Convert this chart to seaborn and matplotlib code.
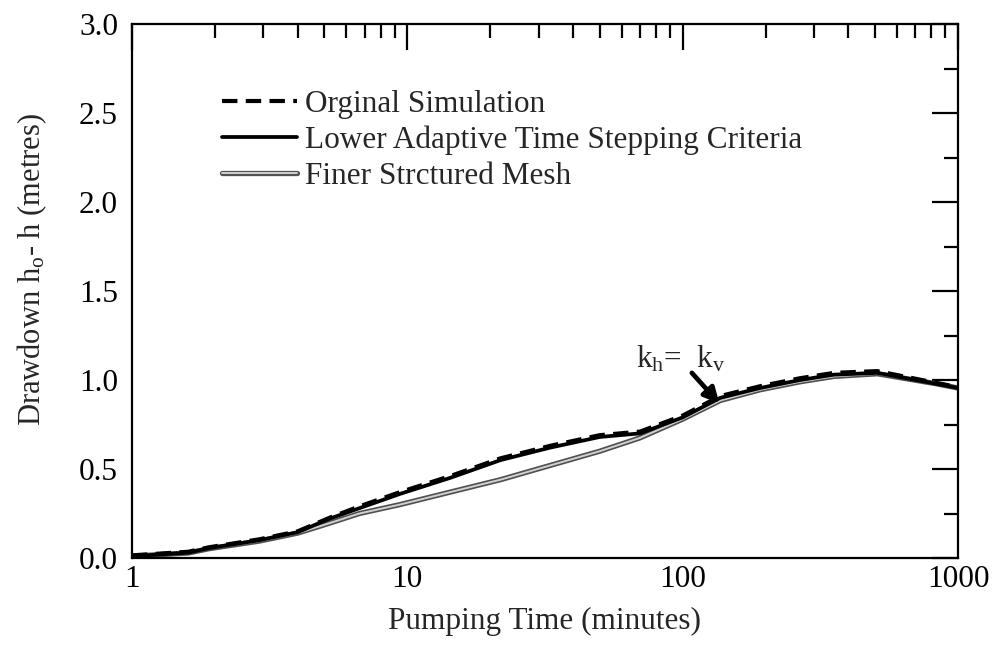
import numpy as np
import pandas as pd
import matplotlib
matplotlib.use("Agg")
import matplotlib.pyplot as plt
import matplotlib.patheffects as pe
from matplotlib.ticker import FixedLocator, MultipleLocator, NullFormatter, FormatStrFormatter
import seaborn as sns

# ---- data ----
time_min = [1, 1.6, 1.9, 2.9, 4.0, 5.2, 6.7, 9.4, 14.3, 21.8, 33, 50, 70, 100, 137, 191, 267, 354, 509, 826, 1000]
original_sim = [0.015, 0.035, 0.06, 0.105, 0.15, 0.225, 0.29, 0.37, 0.46, 0.56, 0.63, 0.69, 0.71, 0.80, 0.91, 0.965, 1.01, 1.04, 1.05, 0.985, 0.96]
lower_adaptive = [0.01, 0.03, 0.055, 0.10, 0.145, 0.22, 0.28, 0.36, 0.45, 0.55, 0.62, 0.68, 0.70, 0.79, 0.90, 0.955, 1.0, 1.03, 1.04, 0.98, 0.955]
finer_mesh = [0.01, 0.028, 0.052, 0.095, 0.14, 0.195, 0.25, 0.30, 0.37, 0.44, 0.52, 0.60, 0.675, 0.78, 0.885, 0.945, 0.99, 1.02, 1.035, 0.98, 0.955]

labels = ["Orginal Simulation", "Lower Adaptive Time Stepping Criteria", "Finer Strctured Mesh"]
x_ticks = [1, 10, 100, 1000]
x_ticklabels = ["1", "10", "100", "1000"]

sns.set_theme(style="white")
plt.rcParams["font.family"] = ["Liberation Serif", "DejaVu Serif"]
plt.rcParams["mathtext.fontset"] = "custom"
plt.rcParams["mathtext.rm"] = "Liberation Serif"
plt.rcParams["mathtext.it"] = "Liberation Serif"

FS = 22.5

fig = plt.figure(figsize=(9.92, 6.51), dpi=100)
ax = fig.add_axes([132 / 992, 93 / 651, 826 / 992, 534 / 651])

sns.lineplot(x=time_min, y=finer_mesh, ax=ax, color="#d0d0d0", linewidth=1.4,
             sort=False, estimator=None, label=labels[2],
             path_effects=[pe.Stroke(linewidth=3.8, foreground="#505050"), pe.Normal()])
sns.lineplot(x=time_min, y=lower_adaptive, ax=ax, color="black", linewidth=2.7,
             sort=False, estimator=None, label=labels[1])
sns.lineplot(x=time_min, y=original_sim, ax=ax, color="black", linewidth=3.0,
             sort=False, estimator=None, label=labels[0])
ax.lines[-1].set_dashes([3.7, 2.0])

ax.set_xscale("log")
ax.set_xlim(1, 1000)
ax.set_ylim(0, 3.0)
ax.xaxis.set_major_locator(FixedLocator(x_ticks))
ax.set_xticklabels(x_ticklabels)
ax.xaxis.set_minor_locator(FixedLocator([m * 10 ** e for e in range(3) for m in range(2, 10)]))
ax.xaxis.set_minor_formatter(NullFormatter())
ax.yaxis.set_major_locator(MultipleLocator(0.5))
ax.yaxis.set_minor_locator(MultipleLocator(0.25))
ax.yaxis.set_major_formatter(FormatStrFormatter("%.1f"))

ax.tick_params(which="both", direction="in", top=True, right=True, width=1.6,
               colors="black", labelsize=FS)
ax.tick_params(which="major", length=19)
ax.tick_params(which="minor", length=10)
ax.tick_params(axis="x", which="major", pad=5)
ax.tick_params(axis="y", which="major", pad=10)
for s in ax.spines.values():
    s.set_linewidth(1.6)
    s.set_color("black")

ax.set_xlabel("Pumping Time (minutes)", fontsize=FS, labelpad=9)
ax.set_ylabel(r"Drawdown h$_{\rm o}$- h (metres)", fontsize=22, labelpad=20)
ax.yaxis.set_label_coords(-0.1, 0.54)

# legend in original order
h, l = ax.get_legend_handles_labels()
order = [l.index(lbl) for lbl in labels]
leg = ax.legend([h[i] for i in order], [l[i] for i in order], loc="upper left",
                bbox_to_anchor=(0.109, 0.877), frameon=False, fontsize=FS,
                handlelength=2.4, handletextpad=0.25, labelspacing=0.22, borderpad=0,
                borderaxespad=0)

# annotation
ax.text(67.5, 1.073, r"k$_{\rm h}$=  k$_{\rm v}$", fontsize=FS, ha="left", va="baseline")
ax.annotate("", xy=(136, 0.868), xytext=(108, 1.04),
            arrowprops=dict(arrowstyle="-|>,head_length=0.75,head_width=0.38",
                            color="black", lw=3.4, shrinkA=0, shrinkB=0))

fig.savefig("out.png", dpi=100)
